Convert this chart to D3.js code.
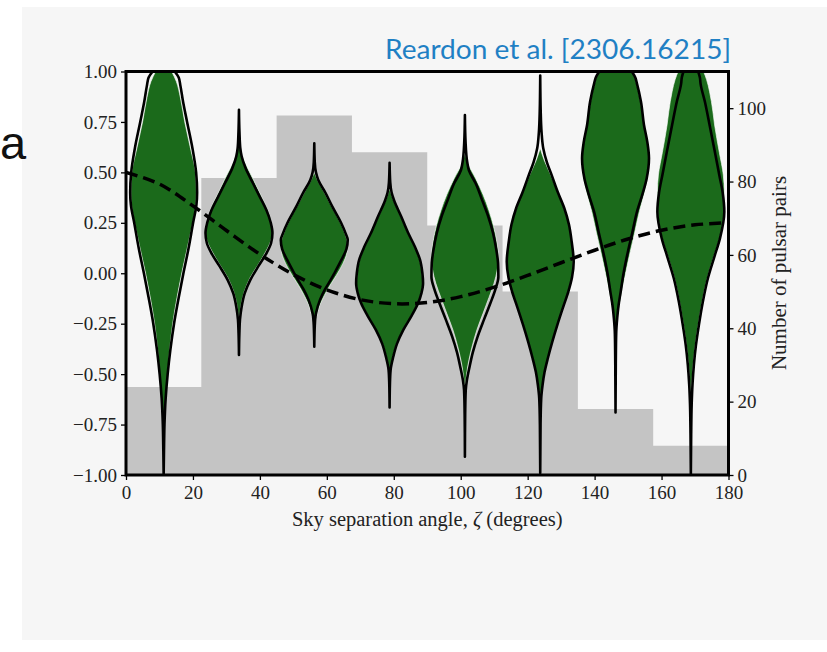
<!DOCTYPE html>
<html>
<head>
<meta charset="utf-8">
<script src="https://cdn.jsdelivr.net/npm/d3@7"></script>
<style>
  body { margin: 0; background: #ffffff; }
  svg { display: block; }
</style>
</head>
<body>
<svg id="chart" width="827" height="652"></svg>
<script>
// Pair-count histogram (right axis), 22.5-degree bins
const binEdges = [0, 22.5, 45, 67.5, 90, 112.5, 135, 157.5, 180];
const pairCounts = [24, 81, 98, 88, 68, 50, 18, 8];

// Violin positions (bin centres, degrees)
const violinAngles = [11.25, 33.75, 56.25, 78.75, 101.25, 123.75, 146.25, 168.75];

// Expected correlation curve (dashed)
const curveAngles = [0, 10, 20, 30, 40, 50, 60, 70, 80, 90, 100, 110, 120, 130, 140, 150, 160, 170, 180];
const curveValues = [0.50, 0.442, 0.334, 0.212, 0.094, -0.006, -0.082, -0.131, -0.151, -0.145, -0.116, -0.069, -0.011, 0.052, 0.114, 0.170, 0.213, 0.240, 0.250];

// Tick labels
const angleTicks = [0, 20, 40, 60, 80, 100, 120, 140, 160, 180];
const corrTicks = [-1.00, -0.75, -0.50, -0.25, 0.00, 0.25, 0.50, 0.75, 1.00];
const countTicks = [0, 20, 40, 60, 80, 100];

// Filled posteriors: [correlation, relative density]
const fillDensity = [
  [[1.0,0.24],[0.95,0.38],[0.87,0.50],[0.75,0.63],[0.62,0.80],[0.5,0.95],[0.4,0.98],[0.3,0.93],[0.25,0.87],[0.12,0.70],[0,0.54],[-0.12,0.40],[-0.25,0.27],[-0.38,0.18],[-0.5,0.12],[-0.62,0.07],[-0.75,0.035],[-0.88,0.01],[-0.95,0]],
  [[0.66,0],[0.6,0.06],[0.54,0.2],[0.46,0.44],[0.39,0.64],[0.32,0.84],[0.26,0.96],[0.21,1.0],[0.16,0.95],[0.11,0.81],[0.05,0.6],[-0.02,0.34],[-0.09,0.16],[-0.16,0.06],[-0.22,0.02],[-0.28,0]],
  [[0.5,0],[0.46,0.1],[0.4,0.3],[0.33,0.52],[0.25,0.78],[0.19,0.93],[0.15,0.99],[0.1,0.97],[0.05,0.86],[-0.01,0.66],[-0.06,0.47],[-0.11,0.3],[-0.16,0.16],[-0.22,0.06],[-0.28,0.015],[-0.32,0]],
  [[0.42,0],[0.36,0.12],[0.28,0.34],[0.198,0.55],[0.13,0.75],[0.066,0.9],[0,0.97],[-0.05,0.99],[-0.1,0.94],[-0.149,0.84],[-0.21,0.65],[-0.281,0.4],[-0.35,0.21],[-0.414,0.1],[-0.48,0.03],[-0.52,0]],
  [[0.6,0],[0.54,0.1],[0.47,0.32],[0.39,0.54],[0.31,0.72],[0.23,0.86],[0.145,0.96],[0.08,1.0],[0.02,0.97],[-0.05,0.87],[-0.12,0.72],[-0.2,0.54],[-0.28,0.36],[-0.36,0.22],[-0.43,0.12],[-0.5,0.05],[-0.56,0.015],[-0.6,0]],
  [[0.62,0],[0.56,0.12],[0.5,0.28],[0.42,0.48],[0.34,0.67],[0.26,0.83],[0.17,0.93],[0.08,0.99],[0.02,0.98],[-0.06,0.89],[-0.14,0.74],[-0.22,0.58],[-0.3,0.43],[-0.38,0.3],[-0.46,0.18],[-0.53,0.09],[-0.6,0.03],[-0.66,0]],
  [[1.0,0.48],[0.97,0.58],[0.94,0.63],[0.85,0.75],[0.735,0.86],[0.65,0.96],[0.57,1.0],[0.47,0.96],[0.39,0.85],[0.305,0.71],[0.2,0.57],[0.107,0.44],[0.0,0.3],[-0.1,0.18],[-0.2,0.08],[-0.3,0.03],[-0.4,0]],
  [[1.0,0.38],[0.96,0.47],[0.9,0.56],[0.8,0.66],[0.735,0.71],[0.6,0.85],[0.487,0.97],[0.4,1.0],[0.305,0.99],[0.173,0.86],[0.08,0.68],[-0.025,0.49],[-0.14,0.34],[-0.257,0.22],[-0.36,0.13],[-0.455,0.07],[-0.55,0.03],[-0.65,0.01],[-0.75,0]]
];

// Outlined posteriors: [correlation, relative density]
const lineDensity = [
  [[1.0,0.33],[0.97,0.45],[0.93,0.50],[0.85,0.58],[0.75,0.70],[0.62,0.86],[0.5,0.97],[0.4,1.0],[0.34,0.98],[0.25,0.88],[0.12,0.74],[0,0.59],[-0.12,0.45],[-0.25,0.31],[-0.38,0.2],[-0.5,0.12],[-0.62,0.06],[-0.75,0.025],[-0.88,0.01],[-1.0,0]],
  [[0.81,0],[0.7,0.015],[0.62,0.04],[0.58,0.08],[0.52,0.2],[0.446,0.42],[0.38,0.62],[0.313,0.82],[0.25,0.95],[0.2,1.0],[0.15,0.96],[0.099,0.82],[0.04,0.6],[-0.033,0.34],[-0.1,0.17],[-0.166,0.08],[-0.23,0.03],[-0.3,0.012],[-0.405,0]],
  [[0.644,0],[0.55,0.015],[0.5,0.05],[0.462,0.12],[0.4,0.33],[0.33,0.54],[0.25,0.8],[0.2,0.93],[0.165,1.0],[0.12,0.96],[0.066,0.81],[0.0,0.6],[-0.033,0.49],[-0.08,0.32],[-0.132,0.17],[-0.2,0.05],[-0.26,0.015],[-0.364,0]],
  [[0.548,0],[0.45,0.02],[0.4,0.06],[0.363,0.13],[0.28,0.35],[0.198,0.56],[0.13,0.76],[0.066,0.91],[0.0,0.98],[-0.05,1.0],[-0.1,0.95],[-0.149,0.85],[-0.21,0.66],[-0.281,0.41],[-0.35,0.22],[-0.414,0.11],[-0.48,0.03],[-0.55,0.01],[-0.665,0]],
  [[0.784,0],[0.65,0.02],[0.55,0.07],[0.51,0.12],[0.446,0.32],[0.36,0.52],[0.28,0.7],[0.2,0.84],[0.115,0.94],[0.05,0.99],[-0.017,1.0],[-0.08,0.91],[-0.149,0.76],[-0.23,0.57],[-0.314,0.38],[-0.39,0.24],[-0.463,0.14],[-0.53,0.06],[-0.58,0.025],[-0.7,0.008],[-0.909,0]],
  [[0.98,0],[0.8,0.015],[0.7,0.04],[0.62,0.09],[0.55,0.2],[0.487,0.34],[0.4,0.53],[0.322,0.72],[0.24,0.86],[0.156,0.94],[0.057,1.0],[-0.02,0.95],[-0.091,0.84],[-0.17,0.68],[-0.257,0.51],[-0.34,0.36],[-0.42,0.23],[-0.49,0.13],[-0.554,0.07],[-0.62,0.03],[-0.75,0.01],[-0.99,0]],
  [[1.0,0.49],[0.97,0.59],[0.94,0.64],[0.85,0.76],[0.735,0.85],[0.65,0.95],[0.57,1.0],[0.47,0.93],[0.39,0.8],[0.305,0.64],[0.2,0.5],[0.107,0.37],[0.0,0.24],[-0.091,0.155],[-0.16,0.09],[-0.223,0.05],[-0.3,0.02],[-0.45,0.008],[-0.69,0]],
  [[1.0,0.22],[0.97,0.27],[0.94,0.29],[0.85,0.42],[0.735,0.56],[0.6,0.72],[0.487,0.85],[0.4,0.95],[0.305,1.0],[0.173,0.87],[0.08,0.7],[-0.025,0.51],[-0.14,0.36],[-0.257,0.24],[-0.36,0.15],[-0.455,0.09],[-0.55,0.05],[-0.65,0.025],[-0.8,0.01],[-1.0,0]]
];

const svg = d3.select("#chart");
const serif = "'Liberation Serif', 'Times New Roman', serif";

// page panel
svg.append("rect").attr("x", 22).attr("y", 7).attr("width", 805).attr("height", 633).attr("fill", "#f6f6f6");

// panel letter
svg.append("text").attr("x", 0).attr("y", 159)
  .attr("font-family", "'Liberation Sans', Arial, sans-serif").attr("font-size", 47)
  .attr("fill", "#111").text("a");

// citation
svg.append("text").attr("x", 731).attr("y", 59).attr("text-anchor", "end")
  .attr("font-family", "Lato, 'Open Sans', sans-serif").attr("font-size", 26)
  .attr("textLength", 346).attr("lengthAdjust", "spacingAndGlyphs")
  .attr("fill", "#1f80c4").text("Reardon et al. [2306.16215]");

const plotLeft = 126, plotRight = 728.5, plotTop = 71.5, plotBottom = 475;
const x = d3.scaleLinear().domain([0, 180]).range([plotLeft, plotRight]);
const y = d3.scaleLinear().domain([-1, 1]).range([plotBottom, plotTop]);
const yCount = d3.scaleLinear().domain([0, 110]).range([plotBottom, plotTop]);

svg.append("clipPath").attr("id", "plotClip")
  .append("rect").attr("x", plotLeft).attr("y", plotTop)
  .attr("width", plotRight - plotLeft).attr("height", plotBottom - plotTop);

const plot = svg.append("g").attr("clip-path", "url(#plotClip)");

// histogram of pulsar pairs, drawn as one stepped area
const histArea = d3.area().curve(d3.curveStepAfter)
  .x((d, i) => x(binEdges[i]))
  .y0(yCount(0))
  .y1(d => yCount(d));
plot.append("path")
  .attr("d", histArea(pairCounts.concat(pairCounts[pairCounts.length - 1])))
  .attr("fill", "#c4c4c4");

// violins
const maxHalf = 10; // degrees
const violin = pos => d3.area().curve(d3.curveMonotoneY)
  .y(d => y(d[0]))
  .x0(d => x(pos - d[1] * maxHalf))
  .x1(d => x(pos + d[1] * maxHalf));

violinAngles.forEach((pos, i) => {
  plot.append("path").attr("d", violin(pos)(fillDensity[i]))
    .attr("fill", "#1b6a1b").attr("stroke", "#ffffff").attr("stroke-width", 0.8).attr("stroke-opacity", 0.8);
});
violinAngles.forEach((pos, i) => {
  plot.append("path").attr("d", violin(pos)(lineDensity[i]))
    .attr("fill", "none").attr("stroke", "#000").attr("stroke-width", 2.6).attr("stroke-linejoin", "round");
});

// expected correlation curve
const curve = d3.line().curve(d3.curveCatmullRom)
  .x((d, i) => x(curveAngles[i])).y(d => y(d));
plot.append("path").attr("d", curve(curveValues))
  .attr("fill", "none").attr("stroke", "#000").attr("stroke-width", 3.5)
  .attr("stroke-dasharray", "12,6");

// axes
const styleAxis = g => {
  g.select(".domain").remove();
  g.selectAll(".tick line").attr("stroke", "#000").attr("stroke-width", 1.3);
  g.selectAll(".tick text").attr("font-family", serif).attr("font-size", 19).attr("fill", "#222");
};
const fmt = d => d3.format(".2f")(d).replace("-", "\u2212");

svg.append("g").attr("transform", `translate(${plotLeft},0)`)
  .call(d3.axisLeft(y).tickValues(corrTicks).tickFormat(fmt).tickSize(5).tickPadding(4))
  .call(styleAxis);

svg.append("g").attr("transform", `translate(0,${plotBottom})`)
  .call(d3.axisBottom(x).tickValues(angleTicks).tickFormat(d3.format("d")).tickSize(5).tickPadding(6))
  .call(styleAxis);

svg.append("g").attr("transform", `translate(${plotRight},0)`)
  .call(d3.axisRight(yCount).tickValues(countTicks).tickFormat(d3.format("d")).tickSize(5).tickPadding(4))
  .call(styleAxis);

// frame
svg.append("rect").attr("x", plotLeft).attr("y", plotTop)
  .attr("width", plotRight - plotLeft).attr("height", plotBottom - plotTop)
  .attr("fill", "none").attr("stroke", "#000").attr("stroke-width", 3);

// axis titles
const xt = svg.append("text").attr("x", (plotLeft + plotRight) / 2).attr("y", 526).attr("text-anchor", "middle")
  .attr("font-family", serif).attr("font-size", 20.5).attr("fill", "#222");
xt.append("tspan").text("Sky separation angle, ");
xt.append("tspan").attr("font-style", "italic").text("\u03B6");
xt.append("tspan").text(" (degrees)");

svg.append("text").attr("transform", `translate(786,273) rotate(-90)`).attr("text-anchor", "middle")
  .attr("font-family", serif).attr("font-size", 21).attr("fill", "#222")
  .text("Number of pulsar pairs");
</script>
</body>
</html>
